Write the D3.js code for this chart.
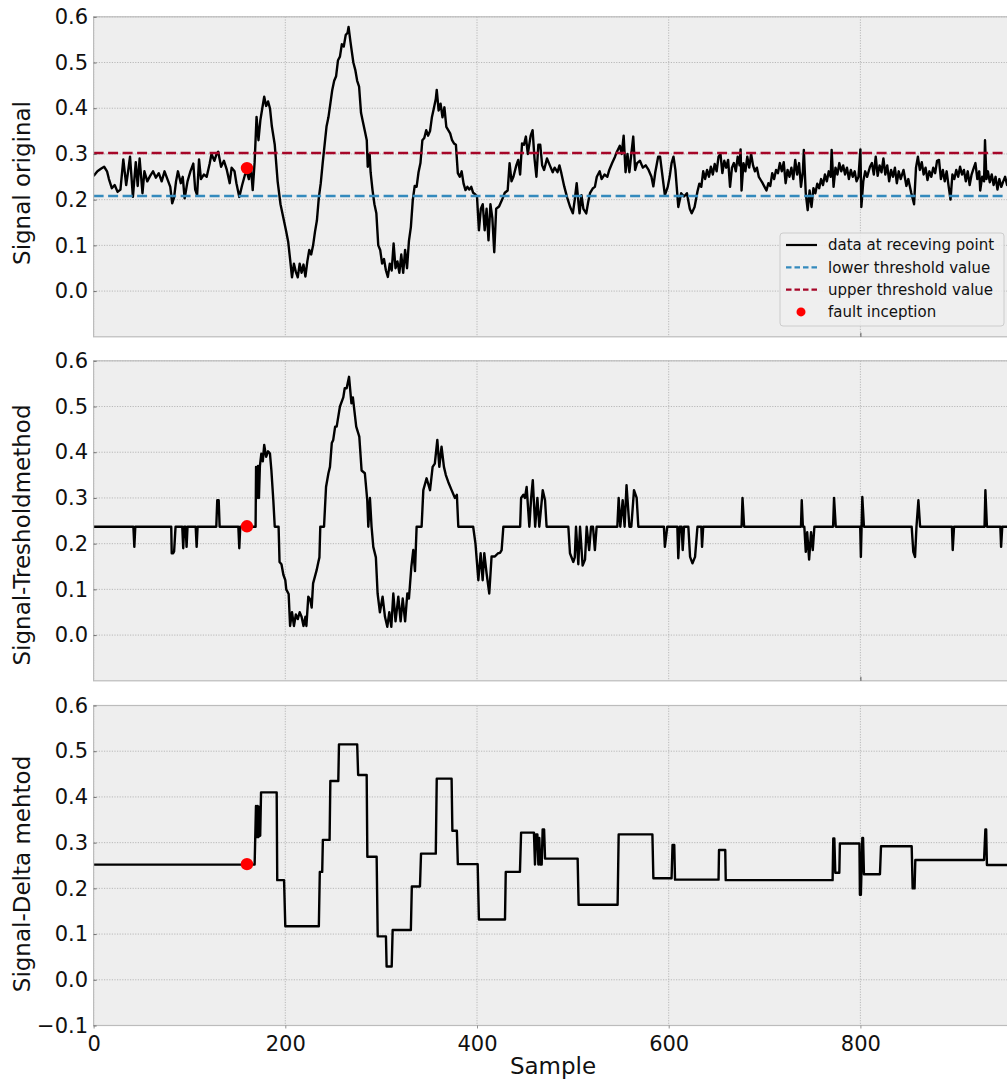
<!DOCTYPE html>
<html>
<head>
<meta charset="utf-8">
<script src="https://cdn.jsdelivr.net/npm/d3@7"></script>
<style>
  html, body { margin: 0; padding: 0; background: #ffffff; }
  svg { display: block; font-family: "DejaVu Sans", sans-serif; }
</style>
</head>
<body>
<svg id="chart" width="1007" height="1081"></svg>
<script>
// ---- data -------------------------------------------------------------
const sampleDomain = [0, 958];
const xTickValues = [0, 200, 400, 600, 800];
const yTickValues = [0.0, 0.1, 0.2, 0.3, 0.4, 0.5, 0.6];
const yTickValuesBottom = [-0.1, 0.0, 0.1, 0.2, 0.3, 0.4, 0.5, 0.6];

const lowerThreshold = 0.208;
const upperThreshold = 0.302;
const faultSample = 160;
const faultValues = [0.269, 0.238, 0.253];

const panelLabels = ["Signal original", "Signal-Tresholdmethod", "Signal-Delta mehtod"];
const legendLabels = ["data at receving point", "lower threshold value", "upper threshold value", "fault inception"];

// [sample, value] – signal at the receiving point
const originalSignal = [
[0,0.252],[4,0.262],[8,0.268],[11,0.272],[14,0.262],[16,0.245],[19,0.225],[22,0.232],[25,0.217],[28,0.222],
[31,0.288],[34,0.232],[36,0.262],[38,0.294],[41,0.206],[44,0.282],[46,0.230],[48,0.290],[51,0.214],[53,0.262],
[56,0.240],[59,0.252],[62,0.262],[65,0.248],[68,0.258],[71,0.240],[74,0.262],[77,0.245],[80,0.228],[82,0.192],
[84,0.205],[86,0.240],[88,0.262],[91,0.236],[93,0.250],[95,0.203],[98,0.240],[101,0.262],[104,0.279],[106,0.222],
[108,0.210],[110,0.288],[112,0.245],[115,0.255],[118,0.250],[121,0.278],[123,0.300],[126,0.285],[128,0.298],[130,0.305],
[133,0.272],[136,0.285],[139,0.265],[142,0.236],[144,0.270],[147,0.262],[149,0.236],[152,0.206],[155,0.232],[158,0.255],
[160,0.260],[162,0.245],[164,0.275],[166,0.221],[168,0.282],[170,0.381],[172,0.330],[174,0.374],[176,0.400],[178,0.425],
[180,0.405],[182,0.415],[184,0.400],[186,0.360],[189,0.320],[192,0.240],[195,0.190],[198,0.160],[201,0.130],[203,0.108],
[205,0.070],[207,0.030],[209,0.060],[211,0.042],[213,0.030],[215,0.060],[217,0.040],[219,0.058],[221,0.032],[223,0.065],
[225,0.090],[227,0.080],[229,0.100],[231,0.130],[233,0.155],[235,0.205],[237,0.236],[239,0.280],[241,0.320],[243,0.360],
[245,0.380],[247,0.410],[249,0.440],[251,0.460],[253,0.470],[255,0.505],[257,0.513],[259,0.540],[261,0.535],[263,0.560],
[265,0.565],[266,0.578],[268,0.545],[269,0.530],[271,0.500],[273,0.484],[275,0.460],[277,0.447],[279,0.390],[281,0.370],
[283,0.350],[285,0.330],[286,0.272],[288,0.300],[289,0.260],[291,0.221],[293,0.190],[295,0.170],[297,0.100],[299,0.090],
[301,0.060],[303,0.070],[305,0.045],[307,0.031],[309,0.060],[311,0.045],[313,0.104],[315,0.050],[317,0.065],[319,0.040],
[321,0.080],[323,0.040],[325,0.090],[327,0.050],[329,0.110],[331,0.140],[333,0.199],[335,0.230],[337,0.228],[339,0.260],
[341,0.280],[343,0.330],[345,0.335],[347,0.352],[349,0.340],[351,0.350],[353,0.381],[355,0.400],[357,0.420],[358,0.440],
[360,0.395],[362,0.410],[364,0.380],[366,0.402],[368,0.359],[370,0.352],[372,0.345],[374,0.330],[376,0.323],[378,0.320],
[380,0.258],[382,0.250],[384,0.262],[386,0.235],[388,0.221],[390,0.228],[392,0.222],[394,0.228],[396,0.215],[398,0.212],
[400,0.207],[402,0.133],[404,0.180],[406,0.190],[408,0.133],[410,0.180],[412,0.111],[414,0.190],[416,0.160],[418,0.085],
[420,0.180],[423,0.185],[426,0.199],[429,0.215],[432,0.220],[434,0.280],[436,0.240],[438,0.250],[441,0.275],[443,0.287],
[445,0.255],[447,0.323],[449,0.320],[451,0.338],[453,0.300],[456,0.340],[458,0.352],[460,0.290],[462,0.250],[464,0.320],
[466,0.320],[468,0.275],[470,0.265],[473,0.290],[476,0.275],[479,0.260],[481,0.270],[484,0.260],[486,0.275],[488,0.258],
[491,0.229],[494,0.205],[497,0.185],[500,0.170],[502,0.200],[504,0.236],[506,0.190],[507,0.170],[509,0.210],[511,0.180],
[514,0.170],[516,0.195],[518,0.215],[521,0.225],[523,0.228],[525,0.250],[528,0.262],[530,0.245],[533,0.255],[536,0.250],
[538,0.265],[541,0.280],[544,0.294],[546,0.305],[549,0.318],[551,0.300],[553,0.340],[555,0.260],[557,0.300],[559,0.260],
[561,0.300],[563,0.338],[565,0.265],[567,0.280],[570,0.285],[573,0.270],[576,0.275],[579,0.265],[582,0.250],[584,0.229],
[586,0.260],[589,0.294],[591,0.294],[593,0.260],[596,0.210],[599,0.228],[601,0.250],[603,0.280],[605,0.294],[607,0.265],
[610,0.184],[613,0.214],[616,0.207],[619,0.214],[622,0.180],[624,0.170],[627,0.184],[630,0.218],[632,0.235],[634,0.228],
[636,0.262],[638,0.245],[640,0.265],[642,0.250],[644,0.272],[646,0.255],[648,0.278],[650,0.262],[652,0.294],[654,0.300],
[656,0.258],[658,0.285],[660,0.270],[662,0.287],[664,0.228],[666,0.270],[668,0.280],[670,0.262],[672,0.294],[674,0.275],
[675,0.310],[676,0.220],[678,0.280],[680,0.262],[682,0.294],[684,0.270],[686,0.300],[688,0.275],[690,0.262],[692,0.270],
[694,0.250],[696,0.243],[698,0.236],[700,0.228],[702,0.220],[704,0.236],[706,0.230],[708,0.258],[710,0.245],[712,0.265],
[714,0.258],[716,0.280],[718,0.262],[720,0.282],[722,0.236],[724,0.265],[726,0.250],[728,0.270],[730,0.245],[732,0.287],
[734,0.255],[736,0.280],[738,0.228],[740,0.262],[741,0.309],[743,0.214],[745,0.177],[747,0.220],[749,0.184],[751,0.225],
[753,0.214],[755,0.235],[757,0.225],[759,0.245],[761,0.232],[763,0.255],[765,0.240],[767,0.262],[769,0.250],[770,0.309],
[772,0.228],[774,0.270],[776,0.255],[778,0.280],[780,0.262],[782,0.275],[784,0.255],[786,0.270],[788,0.245],[790,0.265],
[792,0.250],[794,0.262],[796,0.240],[798,0.250],[800,0.310],[801,0.184],[803,0.240],[805,0.262],[807,0.250],[810,0.272],
[812,0.280],[814,0.255],
[816,0.294],[818,0.252],[820,0.275],[822,0.260],[824,0.290],[826,0.255],[828,0.275],[830,0.240],[832,0.265],[834,0.250],
[836,0.270],[838,0.236],[840,0.262],[842,0.245],[845,0.265],[848,0.230],[850,0.245],[853,0.215],[856,0.190],[858,0.270],
[860,0.294],[862,0.265],[864,0.282],[866,0.255],[868,0.270],[870,0.243],[872,0.262],[874,0.250],[876,0.270],[878,0.258],
[880,0.285],[882,0.287],[884,0.245],[886,0.265],[888,0.240],[890,0.262],[892,0.230],[894,0.200],[896,0.255],[898,0.245],
[900,0.265],[902,0.250],[904,0.272],[906,0.255],[908,0.265],[910,0.240],[912,0.262],[914,0.232],[916,0.255],[918,0.268],
[920,0.280],[922,0.245],[924,0.262],[925,0.220],[927,0.250],[929,0.240],[930,0.330],[931.5,0.245],[933,0.262],[935,0.238],
[937,0.255],[939,0.232],[941,0.250],[943,0.222],[945,0.245],[947,0.228],[949,0.240],[951,0.250],[953,0.232],[955,0.255],[958,0.245]
];

// [sample, value] – output of the threshold method
const thresholdSignal = [
[0,0.237],[41.5,0.237],[42.5,0.193],[43.5,0.237],
[81,0.237],[81.5,0.179],[83,0.179],[84,0.183],[85.5,0.237],
[92.5,0.237],[93.5,0.19],[94.5,0.237],[96,0.237],[97,0.193],[98,0.237],
[106.5,0.237],[107.5,0.193],[108.5,0.237],
[128,0.237],[129,0.295],[130.5,0.295],[131.5,0.237],
[151,0.237],[152,0.19],[153,0.237],
[169,0.237],[169.5,0.368],[170.5,0.30],[171.5,0.37],[172.5,0.30],[173.5,0.37],[175,0.397],[176.5,0.38],[178,0.416],
[180,0.39],[182,0.402],[184,0.397],[185.5,0.36],[187.5,0.295],[189,0.237],[193,0.237],[194,0.16],[196,0.155],[198,0.132],
[200,0.12],[201,0.1],[203.5,0.09],[205,0.02],[207,0.05],[209,0.02],[211,0.045],[213,0.035],[215,0.05],[217,0.04],
[219,0.02],[221,0.04],[222,0.02],[224,0.084],[226,0.078],[227.5,0.06],[229,0.113],[232.7,0.142],[234.5,0.16],[235.6,0.17],
[236.5,0.237],[240.4,0.237],[242.5,0.324],[245,0.354],[246.6,0.368],[248.5,0.42],[250,0.427],[252,0.456],[253.6,0.456],
[257,0.5],[260.5,0.52],[262,0.54],[264,0.54],[266.5,0.565],[269,0.507],[270.5,0.52],[274,0.456],[277.2,0.434],[279.6,0.36],
[283,0.354],[285.5,0.295],[286.6,0.237],[288.3,0.30],[290,0.237],[291.8,0.193],[294.5,0.17],[296.3,0.091],[298.7,0.05],
[301.5,0.084],[304,0.04],[306.4,0.018],[308.5,0.05],[310.6,0.018],[312.7,0.091],[315,0.03],[317.9,0.084],[320.3,0.03],
[322.5,0.08],[325,0.03],[327.3,0.091],[329,0.08],[331.5,0.149],[333.5,0.186],[335.3,0.14],[337,0.237],[342.2,0.237],
[344,0.317],[347.4,0.343],[351,0.317],[353.7,0.368],[356,0.375],[358.6,0.427],[360.7,0.368],[363,0.412],[365.5,0.368],
[367.5,0.35],[370,0.335],[373.5,0.317],[377,0.30],[379,0.307],[380.5,0.237],[396,0.237],[398.4,0.2],[401.4,0.12],
[403.8,0.179],[405.9,0.12],[407.6,0.179],[410,0.135],[412.8,0.091],[415.2,0.172],[418.7,0.172],[422,0.179],[424,0.18],
[425.7,0.186],[427.5,0.237],[445,0.237],[446,0.3],[448.4,0.307],[450,0.30],[451.8,0.324],[454.6,0.237],[456.5,0.30],
[458.2,0.339],[460.7,0.237],[463,0.30],[465,0.237],[468.6,0.317],[471,0.295],[472.6,0.237],[495.3,0.237],[497,0.179],
[500.5,0.16],[502,0.17],[503.3,0.237],[505.7,0.155],[507.5,0.237],[510.2,0.152],[512.7,0.165],[514.4,0.237],[517,0.186],
[519,0.237],[521,0.237],[523,0.186],[524.8,0.237],[546.4,0.237],[547.8,0.30],[549.5,0.237],[552,0.295],[554,0.237],
[556,0.328],[559,0.237],[561,0.237],[563.8,0.317],[566.6,0.30],[568.3,0.237],[595,0.237],[596,0.193],[598.5,0.237],
[609,0.237],[610,0.168],[611.5,0.237],[613.5,0.237],[614.6,0.186],[616,0.237],[620.5,0.237],[622.3,0.171],[624.8,0.157],
[627.5,0.171],[630,0.237],[634,0.237],[634.8,0.193],[636,0.237],[676,0.237],[677,0.3],[678.7,0.237],[738,0.237],
[738.8,0.295],[740,0.237],[741.5,0.237],[743,0.182],[744.5,0.225],[746.5,0.165],[748.5,0.225],[750.3,0.186],[752,0.237],
[771.5,0.237],[772.5,0.30],[774.3,0.237],[799.8,0.237],[800.5,0.171],[802,0.302],[803.7,0.237],[853.5,0.237],
[855.2,0.182],[857,0.171],[858.5,0.237],[860.5,0.295],[862.3,0.237],[895.5,0.237],[896.3,0.186],[897.7,0.237],
[929.5,0.237],[930.4,0.317],[932,0.237],[946,0.237],[946.8,0.193],[948,0.237],[958,0.237]
];

// [sample, value] – output of the delta method (held steps)
const deltaSignal = [
[0,0.252],[168,0.252],[169.4,0.38],[170.3,0.312],[171.2,0.38],[172.1,0.312],[173,0.378],[173.8,0.315],[174.7,0.41],
[191,0.41],[191.6,0.218],[198.7,0.218],[200,0.117],[235,0.117],[236,0.236],[238.5,0.236],[239.2,0.306],[246.2,0.306],
[247,0.435],[255.3,0.435],[256,0.515],[275,0.515],[276,0.448],[284.9,0.448],[285.6,0.269],[295.3,0.269],[296.4,0.095],
[305,0.095],[305.7,0.029],[311,0.029],[312,0.109],[331,0.109],[332,0.204],[340.5,0.204],[341.6,0.276],[357,0.276],
[358,0.44],[373.5,0.44],[374.3,0.326],[379,0.326],[380,0.253],[400.7,0.253],[402,0.132],[429.2,0.132],[430,0.236],
[444.8,0.236],[446,0.322],[459.4,0.322],[460.5,0.252],[461.5,0.318],[463,0.318],[464,0.252],[465,0.31],[466,0.252],
[467.5,0.252],[468.5,0.329],[470,0.329],[471,0.265],[505,0.265],[506,0.164],[546.7,0.164],[547.8,0.318],[583,0.318],
[584,0.222],[603,0.222],[604,0.295],[605.8,0.295],[606.6,0.219],[652,0.219],[652.5,0.284],[659,0.284],[659.5,0.218],
[771,0.218],[771.7,0.309],[772.8,0.309],[773.8,0.234],[778,0.234],[778.6,0.298],[799,0.298],[799.5,0.186],[800.5,0.186],
[802,0.31],[802.8,0.31],[803.7,0.231],[820.4,0.231],[821.5,0.292],[853.5,0.292],[854.5,0.2],[856.5,0.2],[857.3,0.262],
[929,0.262],[930.4,0.329],[931.2,0.329],[932,0.251],[958,0.251]
];

const seriesList = [originalSignal, thresholdSignal, deltaSignal];

// ---- layout -----------------------------------------------------------
const plotLeft = 93.6;
const pxPerSample = 0.9585;
const panelTops = [16.8, 360.8, 705.5];
const panelHeight = 320;
const colors = {
  bg: "#eeeeee", grid: "#b2b2b2", frame: "#bcbcbc",
  lower: "#348ABD", upper: "#A60628", fault: "#ff0000", line: "#000000"
};

const svg = d3.select("#chart");
const x = d3.scaleLinear().domain(sampleDomain)
  .range([plotLeft, plotLeft + (sampleDomain[1] - sampleDomain[0]) * pxPerSample]);
const plotRight = x.range()[1];

panelTops.forEach((top, i) => {
  const y = d3.scaleLinear().domain([-0.1, 0.6]).range([top + panelHeight, top]);
  const g = svg.append("g");
  const clipId = "clip" + i;
  g.append("clipPath").attr("id", clipId).append("rect")
    .attr("x", plotLeft).attr("y", top).attr("width", plotRight - plotLeft).attr("height", panelHeight);

  // background
  g.append("rect").attr("x", plotLeft).attr("y", top)
    .attr("width", plotRight - plotLeft).attr("height", panelHeight).attr("fill", colors.bg);

  // grid
  const grid = g.append("g").attr("stroke", colors.grid).attr("stroke-width", 0.9)
    .attr("stroke-dasharray", "1.2,1.4");
  grid.selectAll("line.h").data(yTickValues).join("line")
    .attr("x1", plotLeft).attr("x2", plotRight).attr("y1", d => y(d)).attr("y2", d => y(d));
  grid.selectAll("line.v").data(xTickValues).join("line")
    .attr("y1", top).attr("y2", top + panelHeight).attr("x1", d => x(d)).attr("x2", d => x(d));

  // signal line
  const line = d3.line().x(d => x(d[0])).y(d => y(d[1]));
  g.append("path").datum(seriesList[i]).attr("clip-path", `url(#${clipId})`)
    .attr("d", line).attr("fill", "none").attr("stroke", colors.line)
    .attr("stroke-width", 2.4).attr("stroke-linejoin", "round");

  // thresholds (top panel)
  if (i === 0) {
    [[lowerThreshold, colors.lower], [upperThreshold, colors.upper]].forEach(([v, c]) => {
      g.append("line").attr("x1", plotLeft).attr("x2", plotRight)
        .attr("y1", y(v)).attr("y2", y(v)).attr("stroke", c)
        .attr("stroke-width", 2.5).attr("stroke-dasharray", "10,4.5");
    });
  }

  // fault inception marker
  g.append("circle").attr("cx", x(faultSample)).attr("cy", y(faultValues[i]))
    .attr("r", 6.2).attr("fill", colors.fault);

  // frame
  g.append("rect").attr("x", plotLeft).attr("y", top)
    .attr("width", plotRight - plotLeft).attr("height", panelHeight)
    .attr("fill", "none").attr("stroke", colors.frame).attr("stroke-width", 1.2);

  // y axis
  const yAxis = d3.axisLeft(y).tickValues(i === 2 ? yTickValuesBottom : yTickValues)
    .tickFormat(d3.format(".1f")).tickSize(-3).tickPadding(6);
  const ya = g.append("g").attr("transform", `translate(${plotLeft},0)`).call(yAxis);
  ya.select(".domain").remove();
  ya.selectAll(".tick line").attr("stroke", "#555").attr("stroke-width", 0.8);
  ya.selectAll(".tick text").attr("font-size", 21).attr("fill", "#111")
    .attr("font-family", "DejaVu Sans, sans-serif").attr("x", -5.5);

  // x ticks
  const xAxis = d3.axisBottom(x).tickValues(xTickValues)
    .tickSize(i === 2 ? 3 : -4).tickPadding(4)
    .tickFormat(i === 2 ? d3.format("d") : () => "");
  const xa = g.append("g").attr("transform", `translate(0,${top + panelHeight})`).call(xAxis);
  xa.select(".domain").remove();
  xa.selectAll(".tick line").attr("stroke", i === 2 ? "#777" : "#333").attr("stroke-width", 0.8)
    .attr("opacity", d => (i === 2 || d === 800) ? 1 : 0);
  xa.selectAll(".tick text").attr("font-size", 21).attr("fill", "#111")
    .attr("font-family", "DejaVu Sans, sans-serif").attr("dy", "0.9em");

  // y label
  const labelCenters = [183, 535, 874];
  svg.append("text").attr("transform", `translate(30,${labelCenters[i]}) rotate(-90)`)
    .attr("text-anchor", "middle").attr("font-size", 23).attr("fill", "#111")
    .text(panelLabels[i]);
});

// x label
svg.append("text").attr("x", 553).attr("y", 1074).attr("text-anchor", "middle")
  .attr("font-size", 23).attr("fill", "#111").text("Sample");

// legend
const legend = svg.append("g");
legend.append("rect").attr("x", 780).attr("y", 233).attr("width", 224).attr("height", 93)
  .attr("rx", 3).attr("fill", "#efefef").attr("fill-opacity", 0.85)
  .attr("stroke", "#cccccc").attr("stroke-width", 1);
const rowY = [245, 267.3, 289.6, 311.9];
const handles = [
  { type: "line", color: colors.line, dash: null, width: 2.2 },
  { type: "line", color: colors.lower, dash: "5.5,3", width: 2.2 },
  { type: "line", color: colors.upper, dash: "5.5,3", width: 2.2 },
  { type: "dot", color: colors.fault }
];
legendLabels.forEach((lab, k) => {
  const h = handles[k];
  if (h.type === "line") {
    legend.append("line").attr("x1", 786).attr("x2", 817).attr("y1", rowY[k]).attr("y2", rowY[k])
      .attr("stroke", h.color).attr("stroke-width", h.width)
      .attr("stroke-dasharray", h.dash);
  } else {
    legend.append("circle").attr("cx", 801).attr("cy", rowY[k]).attr("r", 4.5).attr("fill", h.color);
  }
  legend.append("text").attr("x", 828).attr("y", rowY[k]).attr("dy", "0.36em")
    .attr("font-size", 15).attr("fill", "#111").text(lab);
});
</script>
</body>
</html>
